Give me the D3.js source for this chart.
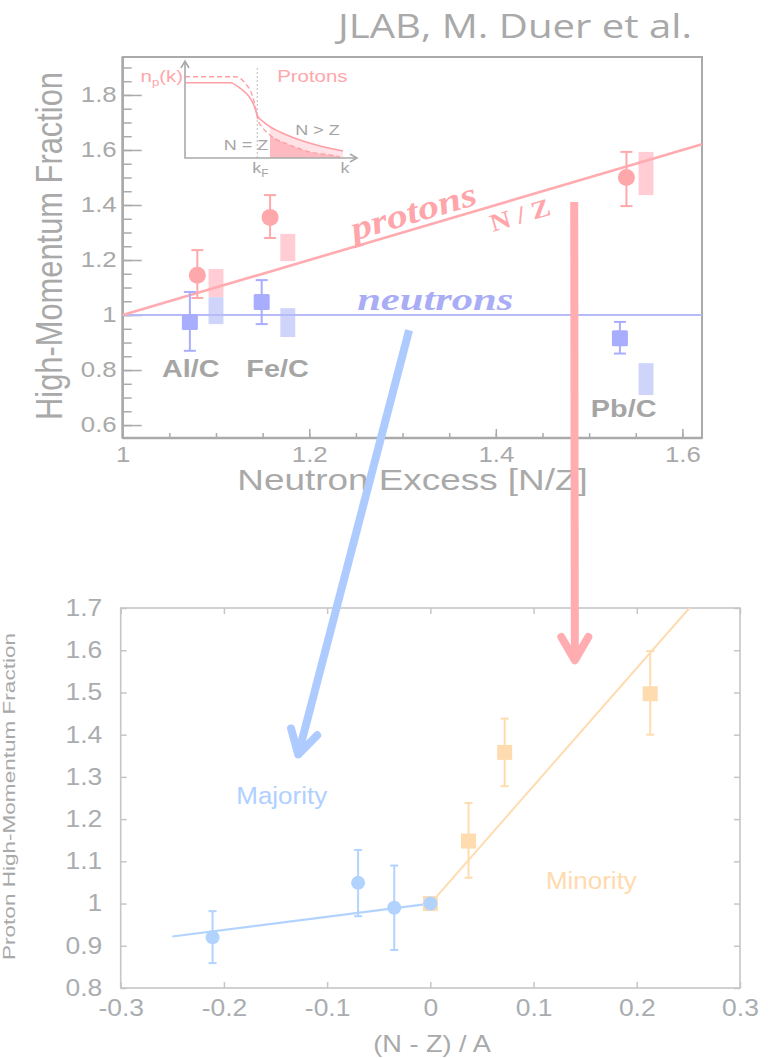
<!DOCTYPE html>
<html>
<head>
<meta charset="utf-8">
<script src="https://cdn.jsdelivr.net/npm/d3@7"></script>
<style>
    body { margin: 0; background: #fff; }
    svg { display: block; }
</style>
</head>
<body>
<div id="chart"></div>
<script>
// ---- top panel: ratio to carbon vs neutron excess N/Z ----
var nucleiTop = ["Al/C", "Fe/C", "Pb/C"];
var nucleiLabelX = [1.073, 1.166, 1.537];
var nucleiLabelY = [0.774, 0.774, 0.630];

var protonX = [1.080, 1.158, 1.540];
var protonY = [1.145, 1.355, 1.500];
var protonLo = [1.062, 1.280, 1.396];
var protonHi = [1.236, 1.436, 1.593];
var sysX = [1.100, 1.177, 1.561];
var protonSysLo = [1.065, 1.196, 1.436];
var protonSysHi = [1.167, 1.295, 1.593];

var neutronX = [1.072, 1.149, 1.533];
var neutronY = [0.975, 1.047, 0.916];
var neutronLo = [0.870, 0.967, 0.860];
var neutronHi = [1.084, 1.127, 0.975];
var neutronSysLo = [0.967, 0.920, 0.709];
var neutronSysHi = [1.065, 1.025, 0.825];

var protonLineX = [1, 1.621];
var protonLineY = [1, 1.621];
var neutronLineX = [1, 1.621];
var neutronLineY = [1, 1];

var topXTicks = [1, 1.2, 1.4, 1.6];
var topYTicks = [0.6, 0.8, 1, 1.2, 1.4, 1.6, 1.8];

// inset sketch n_p(k), k in arbitrary units 0..10
var solidK = [0, 2.62, 3.2, 3.78, 4.07, 4.19, 4.65, 5.52, 6.69, 7.85, 9.19];
var solidN = [0.776, 0.776, 0.72, 0.62, 0.515, 0.443, 0.36, 0.268, 0.186, 0.124, 0.072];
var dashK = [0, 2.91, 3.49, 3.9, 4.13, 4.24, 4.48, 4.94, 6.1, 7.27, 8.43, 9.01];
var dashN = [0.838, 0.838, 0.773, 0.65, 0.495, 0.392, 0.32, 0.237, 0.134, 0.062, 0.031, 0.01];
var kFermi = 4.2;

// ---- bottom panel: proton high-momentum fraction vs (N-Z)/A ----
var majX = [-0.211, -0.070, -0.035, 0];
var majY = [0.920, 1.049, 0.990, 1.000];
var majLo = [0.859, 0.970, 0.890, null];
var majHi = [0.982, 1.127, 1.090, null];
var minX = [0, 0.037, 0.072, 0.213];
var minY = [1.000, 1.148, 1.358, 1.497];
var minLo = [null, 1.061, 1.278, 1.400];
var minHi = [null, 1.238, 1.438, 1.598];
var majFitX = [-0.25, 0];
var majFitY = [0.922, 1.0];
var minFitX = [0, 0.251];
var minFitY = [1.0, 1.7];

var botXTicks = [-0.3, -0.2, -0.1, 0, 0.1, 0.2, 0.3];
var botYTicks = [0.8, 0.9, 1, 1.1, 1.2, 1.3, 1.4, 1.5, 1.6, 1.7];

// arrows: start in top panel data, tip in bottom panel data
var blueArrow = { from: [1.307, 0.945], to: [-0.128, 1.353] };
var pinkArrow = { from: [1.484, 1.411], to: [0.140, 1.576] };

var grey = "#a9a9a9";
var frameCol = "#aaaaaa";
var sans = "'Liberation Sans', Arial, Helvetica, sans-serif";
var serif = "'Liberation Serif', 'Times New Roman', serif";
var pink = "#ffabb0", pinkMark = "#ffa8ab", pinkBox = "#ffcdd3";
var lav = "#b6baf8", lavMark = "#a9adfd", lavBox = "#cfd4fb";
var lightBlue = "#b3d3ff", orange = "#ffdcb0";

var svg = d3.select("#chart").append("svg")
    .attr("width", 769)
    .attr("height", 1058);

function fmt(d) { return String(+d.toFixed(1)); }

function txt(parent, s, x, y, o) {
    var t = parent.append("text")
        .attr("transform", "translate(" + x + "," + y + ") scale(" + (o.sx || 1) + ",1) rotate(" + (o.rot || 0) + ")")
        .attr("text-anchor", o.anchor || "middle")
        .style("font-family", o.font || sans)
        .style("font-size", o.size + "px")
        .style("fill", o.fill || grey);
    if (o.weight) t.style("font-weight", o.weight);
    if (o.italic) t.style("font-style", "italic");
    if (o.len) t.attr("textLength", o.len).attr("lengthAdjust", "spacingAndGlyphs");
    if (s !== null) t.text(s);
    return t;
}

function styleAxis(g, col, size, sx, lab) {
    g.select(".domain").remove();
    g.selectAll(".tick line").attr("stroke", col).attr("stroke-width", 1.5);
    g.selectAll(".tick text")
        .attr("fill", lab || grey)
        .attr("transform", "scale(" + sx + ",1)")
        .style("font-family", sans)
        .style("font-size", size + "px");
}

function errorBars(g, xs, lo, hi, xs_, ys_, cap, col) {
    xs.forEach(function(x, i) {
        if (lo[i] === null) return;
        var px = xs_(x);
        g.append("line").attr("x1", px).attr("x2", px)
            .attr("y1", ys_(hi[i])).attr("y2", ys_(lo[i]))
            .attr("stroke", col).attr("stroke-width", 2);
        [lo[i], hi[i]].forEach(function(v) {
            g.append("line").attr("x1", px - cap / 2).attr("x2", px + cap / 2)
                .attr("y1", ys_(v)).attr("y2", ys_(v))
                .attr("stroke", col).attr("stroke-width", 2);
        });
    });
}

// ================= top panel =================
var xT = d3.scaleLinear().domain([1, 1.621]).range([122.7, 702]);
var yT = d3.scaleLinear().domain([0.553, 1.938]).range([438, 57]);
var topG = svg.append("g").attr("class", "top_panel");

topG.append("rect")
    .attr("x", xT(1)).attr("y", yT(1.938))
    .attr("width", xT(1.621) - xT(1)).attr("height", yT(0.553) - yT(1.938))
    .attr("fill", "none").attr("stroke", frameCol).attr("stroke-width", 2);

topG.append("g").attr("transform", "translate(0," + yT(0.553) + ")")
    .call(d3.axisBottom(xT).tickValues(d3.range(1.05, 1.62, 0.05)).tickSize(-5).tickFormat(""))
    .call(styleAxis, frameCol, 21.5, 1.2);
topG.append("g").attr("transform", "translate(0," + yT(0.553) + ")")
    .call(d3.axisBottom(xT).tickValues(topXTicks).tickSize(-9).tickPadding(9).tickFormat(fmt))
    .call(styleAxis, frameCol, 21.5, 1.2);
topG.append("g").attr("transform", "translate(" + xT(1) + ",0)")
    .call(d3.axisLeft(yT).tickValues(d3.range(0.6, 1.93, 0.05)).tickSize(-9).tickFormat(""))
    .call(styleAxis, frameCol, 21.5, 1.2);
topG.append("g").attr("transform", "translate(" + xT(1) + ",0)")
    .call(d3.axisLeft(yT).tickValues(topYTicks).tickSize(-19).tickPadding(5).tickFormat(fmt))
    .call(styleAxis, frameCol, 21.5, 1.2);

topG.append("line").attr("x1", xT(1)).attr("x2", xT(1)).attr("y1", yT(0.553)).attr("y2", yT(1.938))
    .attr("stroke", frameCol).attr("stroke-width", 2.6);
topG.append("line").attr("x1", xT(1)).attr("x2", xT(1.621)).attr("y1", yT(0.553)).attr("y2", yT(0.553))
    .attr("stroke", frameCol).attr("stroke-width", 2.6);

// systematic boxes
var boxW = 0.016;
function sysBoxes(lo, hi, col) {
    topG.selectAll(null).data(sysX).enter().append("rect")
        .attr("x", function(d) { return xT(d - boxW / 2); })
        .attr("width", xT(1 + boxW) - xT(1))
        .attr("y", function(d, i) { return yT(hi[i]); })
        .attr("height", function(d, i) { return yT(lo[i]) - yT(hi[i]); })
        .attr("fill", col);
}
sysBoxes(protonSysLo, protonSysHi, pinkBox);
sysBoxes(neutronSysLo, neutronSysHi, lavBox);

var lineT = d3.line().x(function(d) { return xT(d[0]); }).y(function(d) { return yT(d[1]); });
topG.append("path").attr("d", lineT(d3.zip(neutronLineX, neutronLineY)))
    .attr("stroke", lav).attr("stroke-width", 2).attr("fill", "none");
topG.append("path").attr("d", lineT(d3.zip(protonLineX, protonLineY)))
    .attr("stroke", pink).attr("stroke-width", 2.6).attr("fill", "none");

errorBars(topG, protonX, protonLo, protonHi, xT, yT, 12, pinkMark);
errorBars(topG, neutronX, neutronLo, neutronHi, xT, yT, 12, lavMark);

topG.selectAll(".pmark").data(protonX).enter().append("circle")
    .attr("cx", function(d) { return xT(d); })
    .attr("cy", function(d, i) { return yT(protonY[i]); })
    .attr("r", 8.5).attr("fill", pinkMark);
topG.selectAll(".nmark").data(neutronX).enter().append("rect")
    .attr("x", function(d) { return xT(d) - 8; })
    .attr("y", function(d, i) { return yT(neutronY[i]) - 8; })
    .attr("width", 16).attr("height", 16).attr("rx", 1.5).attr("fill", lavMark);

nucleiTop.forEach(function(n, i) {
    txt(topG, n, xT(nucleiLabelX[i]), yT(nucleiLabelY[i]), { size: 24, sx: 1.2, weight: "bold", fill: "#a5a5a5" });
});

// line labels
var ang = Math.atan2(yT(1.6) - yT(1), xT(1.6) - xT(1)) * 180 / Math.PI;
txt(topG, "protons", xT(1.315), yT(1.315) - 6, { size: 34, rot: ang, font: serif, weight: "bold", italic: true, fill: "#ffa6ab", len: 130 });
txt(topG, "N / Z", xT(1.4285), yT(1.4285) + 26, { size: 25, rot: ang, font: serif, weight: "bold", fill: "#ffa6ab", len: 62 });
txt(topG, "neutrons", xT(1.335), yT(1) - 5, { size: 32, font: serif, weight: "bold", italic: true, fill: "#a9adf5", len: 156 });

// axis titles and header
txt(topG, "Neutron Excess [N/Z]", 412.5, 490, { size: 30, sx: 1.2, len: 292 });
txt(topG, "High-Momentum Fraction", 62, 246, { size: 30, sx: 1.2, rot: -90, len: 348 });
txt(svg, "JLAB, M. Duer et al.", 515, 38, { size: 32, sx: 1.2, font: "'Open Sans', 'Noto Sans', sans-serif", len: 295 });

// ---- inset ----
var kx = d3.scaleLinear().domain([0, 10]).range([185, 357]);
var ny = d3.scaleLinear().domain([0, 1]).range([158, 61]);
var inset = topG.append("g").attr("class", "inset");
svg.append("clipPath").attr("id", "tailclip").append("rect")
    .attr("x", kx(4.94)).attr("y", ny(1)).attr("width", kx(10) - kx(4.94)).attr("height", ny(0) - ny(1));

var areaK = d3.area().curve(d3.curveMonotoneX)
    .x(function(d) { return kx(d[0]); }).y0(ny(0)).y1(function(d) { return ny(d[1]); });
var lineK = d3.line().curve(d3.curveMonotoneX)
    .x(function(d) { return kx(d[0]); }).y(function(d) { return ny(d[1]); });
var solidPts = d3.zip(solidK, solidN), dashPts = d3.zip(dashK, dashN);

inset.append("path").attr("d", areaK(solidPts)).attr("fill", "#ffe2e5").attr("clip-path", "url(#tailclip)");
inset.append("path").attr("d", areaK(dashPts)).attr("fill", "#ffb9c0").attr("clip-path", "url(#tailclip)");
inset.append("line").attr("x1", kx(kFermi)).attr("x2", kx(kFermi)).attr("y1", ny(0)).attr("y2", ny(0.93))
    .attr("stroke", "#bbb").attr("stroke-width", 1).attr("stroke-dasharray", "2,2");
inset.append("path").attr("d", lineK(solidPts)).attr("fill", "none").attr("stroke", "#ff9fa6").attr("stroke-width", 1.6);
inset.append("path").attr("d", lineK(dashPts)).attr("fill", "none").attr("stroke", "#ff9fa6").attr("stroke-width", 1.4).attr("stroke-dasharray", "5,3");

var ax = d3.path();
ax.moveTo(kx(0), ny(1)); ax.lineTo(kx(0), ny(0)); ax.lineTo(kx(10), ny(0));
ax.moveTo(kx(0) - 4, ny(1) + 7); ax.lineTo(kx(0), ny(1)); ax.lineTo(kx(0) + 4, ny(1) + 7);
ax.moveTo(kx(10) - 7, ny(0) - 4); ax.lineTo(kx(10), ny(0)); ax.lineTo(kx(10) - 7, ny(0) + 4);
inset.append("path").attr("d", ax.toString()).attr("fill", "none").attr("stroke", "#aaa").attr("stroke-width", 1.6);

var np = txt(inset, null, kx(0) - 2, ny(0.78), { size: 17, sx: 1.2, anchor: "end", fill: "#ffa6ab" });
np.append("tspan").text("n");
np.append("tspan").attr("dy", 4).style("font-size", "11px").text("p");
np.append("tspan").attr("dy", -4).text("(k)");
txt(inset, "Protons", kx(7.4), ny(0.78), { size: 17, sx: 1.2, fill: "#ffa6ab" });
txt(inset, "N > Z", kx(7.7), ny(0.237), { size: 15, sx: 1.2, fill: "#a5a5a5" });
txt(inset, "N = Z", kx(3.55), ny(0.082), { size: 15, sx: 1.2, fill: "#a5a5a5" });
var kf = txt(inset, null, kx(kFermi) - 5, 173, { size: 15, sx: 1.2, anchor: "start", fill: "#a5a5a5" });
kf.append("tspan").text("k");
kf.append("tspan").attr("dy", 4).style("font-size", "10px").text("F");
txt(inset, "k", kx(9.3), 173, { size: 15, sx: 1.2, fill: "#a5a5a5" });

// ================= bottom panel =================
var xB = d3.scaleLinear().domain([-0.3, 0.3]).range([120.7, 740]);
var yB = d3.scaleLinear().domain([0.8, 1.7]).range([988, 608]);
var botG = svg.append("g").attr("class", "bottom_panel");
var botFrame = "#c6c6c6", botLab = "#aaadb0";

botG.append("rect")
    .attr("x", xB(-0.3)).attr("y", yB(1.7))
    .attr("width", xB(0.3) - xB(-0.3)).attr("height", yB(0.8) - yB(1.7))
    .attr("fill", "none").attr("stroke", botFrame).attr("stroke-width", 1.6);

botG.append("g").attr("transform", "translate(0," + yB(0.8) + ")")
    .call(d3.axisBottom(xB).tickValues(botXTicks).tickSize(-6).tickPadding(12).tickFormat(fmt))
    .call(styleAxis, botFrame, 23, 1.15, botLab);
botG.append("g").attr("transform", "translate(0," + yB(1.7) + ")")
    .call(d3.axisTop(xB).tickValues(botXTicks).tickSize(-6).tickFormat(""))
    .call(styleAxis, botFrame, 23, 1.15);
botG.append("g").attr("transform", "translate(" + xB(-0.3) + ",0)")
    .call(d3.axisLeft(yB).tickValues(botYTicks).tickSize(-6).tickPadding(16).tickFormat(fmt))
    .call(styleAxis, botFrame, 23, 1.15, botLab);
botG.append("g").attr("transform", "translate(" + xB(0.3) + ",0)")
    .call(d3.axisRight(yB).tickValues(botYTicks).tickSize(-6).tickFormat(""))
    .call(styleAxis, botFrame, 23, 1.15);

var lineB = d3.line().x(function(d) { return xB(d[0]); }).y(function(d) { return yB(d[1]); });
botG.append("path").attr("d", lineB(d3.zip(minFitX, minFitY)))
    .attr("stroke", orange).attr("stroke-width", 2).attr("fill", "none");
botG.append("path").attr("d", lineB(d3.zip(majFitX, majFitY)))
    .attr("stroke", lightBlue).attr("stroke-width", 2.2).attr("fill", "none");

errorBars(botG, minX, minLo, minHi, xB, yB, 8, orange);
errorBars(botG, majX, majLo, majHi, xB, yB, 8, lightBlue);

botG.selectAll(".minmark").data(minX).enter().append("rect")
    .attr("x", function(d) { return xB(d) - 7.5; })
    .attr("y", function(d, i) { return yB(minY[i]) - 7.5; })
    .attr("width", 15).attr("height", 15).attr("fill", orange);
botG.selectAll(".majmark").data(majX).enter().append("circle")
    .attr("cx", function(d) { return xB(d); })
    .attr("cy", function(d, i) { return yB(majY[i]); })
    .attr("r", 7).attr("fill", lightBlue);

txt(botG, "Majority", xB(-0.144), yB(1.235), { size: 23, sx: 1.13, fill: "#b0d0ff" });
txt(botG, "Minority", xB(0.156), yB(1.035), { size: 23, sx: 1.13, fill: "#ffdaad" });
txt(botG, "(N - Z) / A", 432, 1052, { size: 23, sx: 1.18 });
txt(botG, "Proton High-Momentum Fraction", 15, 796.5, { size: 17, rot: -90, len: 327 });

// ================= arrows =================
function arrow(a, col) {
    var x1 = xT(a.from[0]), y1 = yT(a.from[1]), x2 = xB(a.to[0]), y2 = yB(a.to[1]);
    var t = Math.atan2(y2 - y1, x2 - x1), L = 27, w = Math.PI / 6;
    svg.append("line").attr("x1", x1).attr("y1", y1).attr("x2", x2).attr("y2", y2)
        .attr("stroke", col).attr("stroke-width", 8);
    var p = d3.path();
    p.moveTo(x2 - L * Math.cos(t - w), y2 - L * Math.sin(t - w));
    p.lineTo(x2, y2);
    p.lineTo(x2 - L * Math.cos(t + w), y2 - L * Math.sin(t + w));
    svg.append("path").attr("d", p.toString()).attr("fill", "none")
        .attr("stroke", col).attr("stroke-width", 8)
        .attr("stroke-linecap", "round").attr("stroke-linejoin", "round");
}
arrow(blueArrow, "#aecbff");
arrow(pinkArrow, "#ffadb0");
</script>
</body>
</html>
